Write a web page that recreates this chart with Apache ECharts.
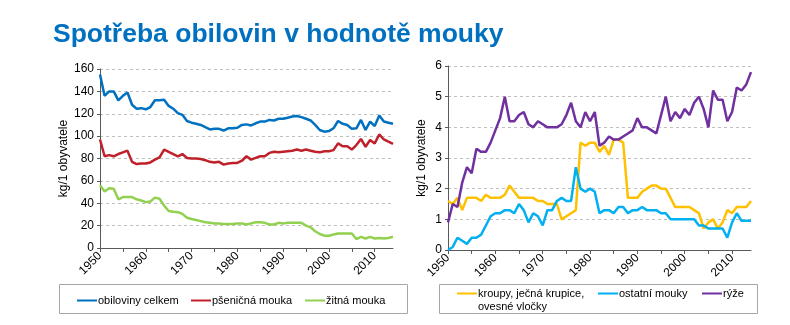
<!DOCTYPE html>
<html><head><meta charset="utf-8">
<script src="https://cdn.jsdelivr.net/npm/echarts@6/dist/echarts.min.js"></script>
<style>html,body{margin:0;padding:0;background:#fff;}#c{width:790px;height:325px;}</style>
</head><body><div id="c"></div>
<script>
const titleText = 'Spotřeba obilovin v hodnotě mouky';
const years = [];
for (let y = 1950; y <= 2014; y++) years.push(String(y));
const yAxisName = 'kg/1 obyvatele';

// Left chart (kg/1 obyvatele)
const obilovinyCelkem = [155,136,140,140,132,136,139,128,124.5,125,124,126,132,132,132.5,127,124.5,120.5,119,113.5,112,111,110,108,106,106.5,106.5,105,107,107,107.5,110,110.5,109.5,111.5,113,113,114.5,114,115.5,115.5,116.5,117.5,118,117,115.5,114,110,105.5,104,104.5,107,113.5,111,110,106.5,107,114.5,105.5,113,109,118.5,113,112,111];
const psenicnaMouka = [97,82,83,82,84,85.5,87,77,75,75.5,75.5,76.5,79,81,88,86,84,82,84,80.5,80,80,79.5,78.5,77,76.5,77,74.5,75.5,76,76,78,82,79,80.5,82,82,85,86,85.5,86,86.5,87,88,87,88,87,86,85.5,86.5,86.5,87.5,93.5,91,91,88,92,97.5,90.5,96.5,93.5,101.5,97,95,93];
const zitnaMouka = [56,50.5,53.5,53,43.5,45.5,45.5,45.5,43.5,42.5,41,41.5,45,44,38,33,32.5,32,30.5,27,26,25,24,23,22.5,22,22,21.5,21.5,21.5,22,22,21,22,23,23,22.5,21,21,22.5,22,22.5,22.5,22.5,22.5,20,18.5,15,12.5,11,11,12,13,13,13,13,8,10,8.5,10,8.5,9,8.5,9,10];

// Right chart
const kroupy = [1.6,1.5,1.7,1.3,1.7,1.7,1.7,1.6,1.8,1.7,1.7,1.7,1.8,2.1,1.9,1.7,1.7,1.7,1.7,1.6,1.6,1.5,1.5,1.5,1.0,1.1,1.2,1.3,3.5,3.4,3.5,3.5,3.2,3.4,3.1,3.6,3.6,3.5,1.7,1.7,1.7,1.9,2.0,2.1,2.1,2.0,2.0,1.7,1.4,1.4,1.4,1.4,1.3,1.2,0.7,0.9,1.0,0.7,0.9,1.3,1.2,1.4,1.4,1.4,1.6];
const ostatniMouky = [0.0,0.1,0.4,0.3,0.2,0.4,0.4,0.5,0.8,1.1,1.2,1.2,1.3,1.3,1.2,1.5,1.3,0.9,1.2,1.1,0.8,1.3,1.3,1.6,1.7,1.6,1.6,2.7,2.0,1.9,2.0,1.9,1.2,1.3,1.3,1.2,1.4,1.4,1.2,1.3,1.3,1.4,1.3,1.3,1.3,1.2,1.2,1.0,1.0,1.0,1.0,1.0,1.0,0.8,0.8,0.7,0.7,0.7,0.7,0.4,0.9,1.2,0.95,0.95,0.95];
const ryze = [0.9,1.5,1.4,2.2,2.7,2.5,3.3,3.2,3.2,3.5,3.9,4.3,5.0,4.2,4.2,4.4,4.5,4.1,4.0,4.2,4.1,4.0,4.0,4.0,4.1,4.4,4.8,4.2,4.0,4.5,4.2,4.5,3.4,3.5,3.7,3.6,3.6,3.7,3.8,3.9,4.3,4.0,4.0,3.9,3.8,4.4,5.0,4.2,4.5,4.3,4.6,4.4,4.8,5.0,4.6,4.0,5.2,4.9,4.9,4.2,4.5,5.3,5.2,5.4,5.8];

const leftNames = ['obiloviny celkem','pšeničná mouka','žitná mouka'];
const rightNames = ['kroupy, ječná krupice, ovesné vločky','ostatní mouky','rýže'];
const leftColors = ['#0070C0','#C0202A','#92D050'];
const rightColors = ['#FFC000','#00B0F0','#7030A0'];

const FONT = 'Liberation Sans, Arial, sans-serif';
const chart = echarts.init(document.getElementById('c'), null, {renderer:'canvas'});

function xAx(gi){
  return {
    type:'category', gridIndex:gi, data:years, boundaryGap:false,
    axisLine:{show:true, lineStyle:{color:'#595959', width:1}},
    axisTick:{show:true, length:4, interval:(i)=>i%5===0, lineStyle:{color:'#595959'}},
    axisLabel:{rotate:45, interval:(i)=>i%10===0, color:'#000', fontSize:12, fontFamily:FONT, margin:6},
    splitLine:{show:false}
  };
}
function yAx(gi,max,interval,gap){
  return {
    type:'value', gridIndex:gi, min:0, max:max, interval:interval,
    name:yAxisName, nameLocation:'middle', nameGap:gap, nameRotate:90,
    nameTextStyle:{color:'#000', fontSize:12, fontFamily:FONT},
    axisLine:{show:true, lineStyle:{color:'#595959', width:1}},
    axisTick:{show:true, length:3, lineStyle:{color:'#595959'}},
    axisLabel:{color:'#000', fontSize:12, fontFamily:FONT, margin:6},
    splitLine:{show:true, lineStyle:{color:'#BFBFBF', type:[3,3], width:1}}
  };
}
function ser(name,data,color,gi){
  return {name:name, type:'line', xAxisIndex:gi, yAxisIndex:gi, data:data,
    showSymbol:false, symbol:'none', smooth:false,
    lineStyle:{color:color, width:2.5}, itemStyle:{color:color}, animation:false};
}
function leg(name,left,top){
  return {data:[name], left:left, top:top, padding:0, itemGap:0,
    icon:'rect', itemWidth:20, itemHeight:2,
    formatter:(n)=> n === rightNames[0] ? ' \nkroupy, ječná krupice,\novesné vločky' : n,
    textStyle:{color:'#000', fontSize:11, fontFamily:FONT, lineHeight:13, padding:[0,0,0,-4]}};
}

const option = {
  animation:false,
  title:{text:titleText, left:48, top:16,
    textStyle:{color:'#0070C0', fontSize:26.5, fontWeight:'bold', fontFamily:FONT}},
  grid:[
    {left:100, top:69, width:293, height:179, containLabel:false},
    {left:448, top:66, width:303, height:184, containLabel:false}
  ],
  xAxis:[xAx(0), xAx(1)],
  yAxis:[yAx(0,160,20,30), yAx(1,6,1,20)],
  graphic:[
    {type:'rect', shape:{x:59.5, y:284.5, width:348, height:29}, style:{fill:'none', stroke:'#A6A6A6', lineWidth:1}, silent:true},
    {type:'rect', shape:{x:439.5, y:284.5, width:318, height:29}, style:{fill:'none', stroke:'#A6A6A6', lineWidth:1}, silent:true}
  ],
  legend:[
    leg(leftNames[0],77,294),
    leg(leftNames[1],191,294),
    leg(leftNames[2],305,294),
    leg(rightNames[0],457,274),
    leg(rightNames[1],598,287),
    leg(rightNames[2],702,287)
  ],
  series:[
    ser(leftNames[0],obilovinyCelkem,leftColors[0],0),
    ser(leftNames[1],psenicnaMouka,leftColors[1],0),
    ser(leftNames[2],zitnaMouka,leftColors[2],0),
    ser(rightNames[0],kroupy,rightColors[0],1),
    ser(rightNames[1],ostatniMouky,rightColors[1],1),
    ser(rightNames[2],ryze,rightColors[2],1)
  ]
};
chart.setOption(option);
</script></body></html>
